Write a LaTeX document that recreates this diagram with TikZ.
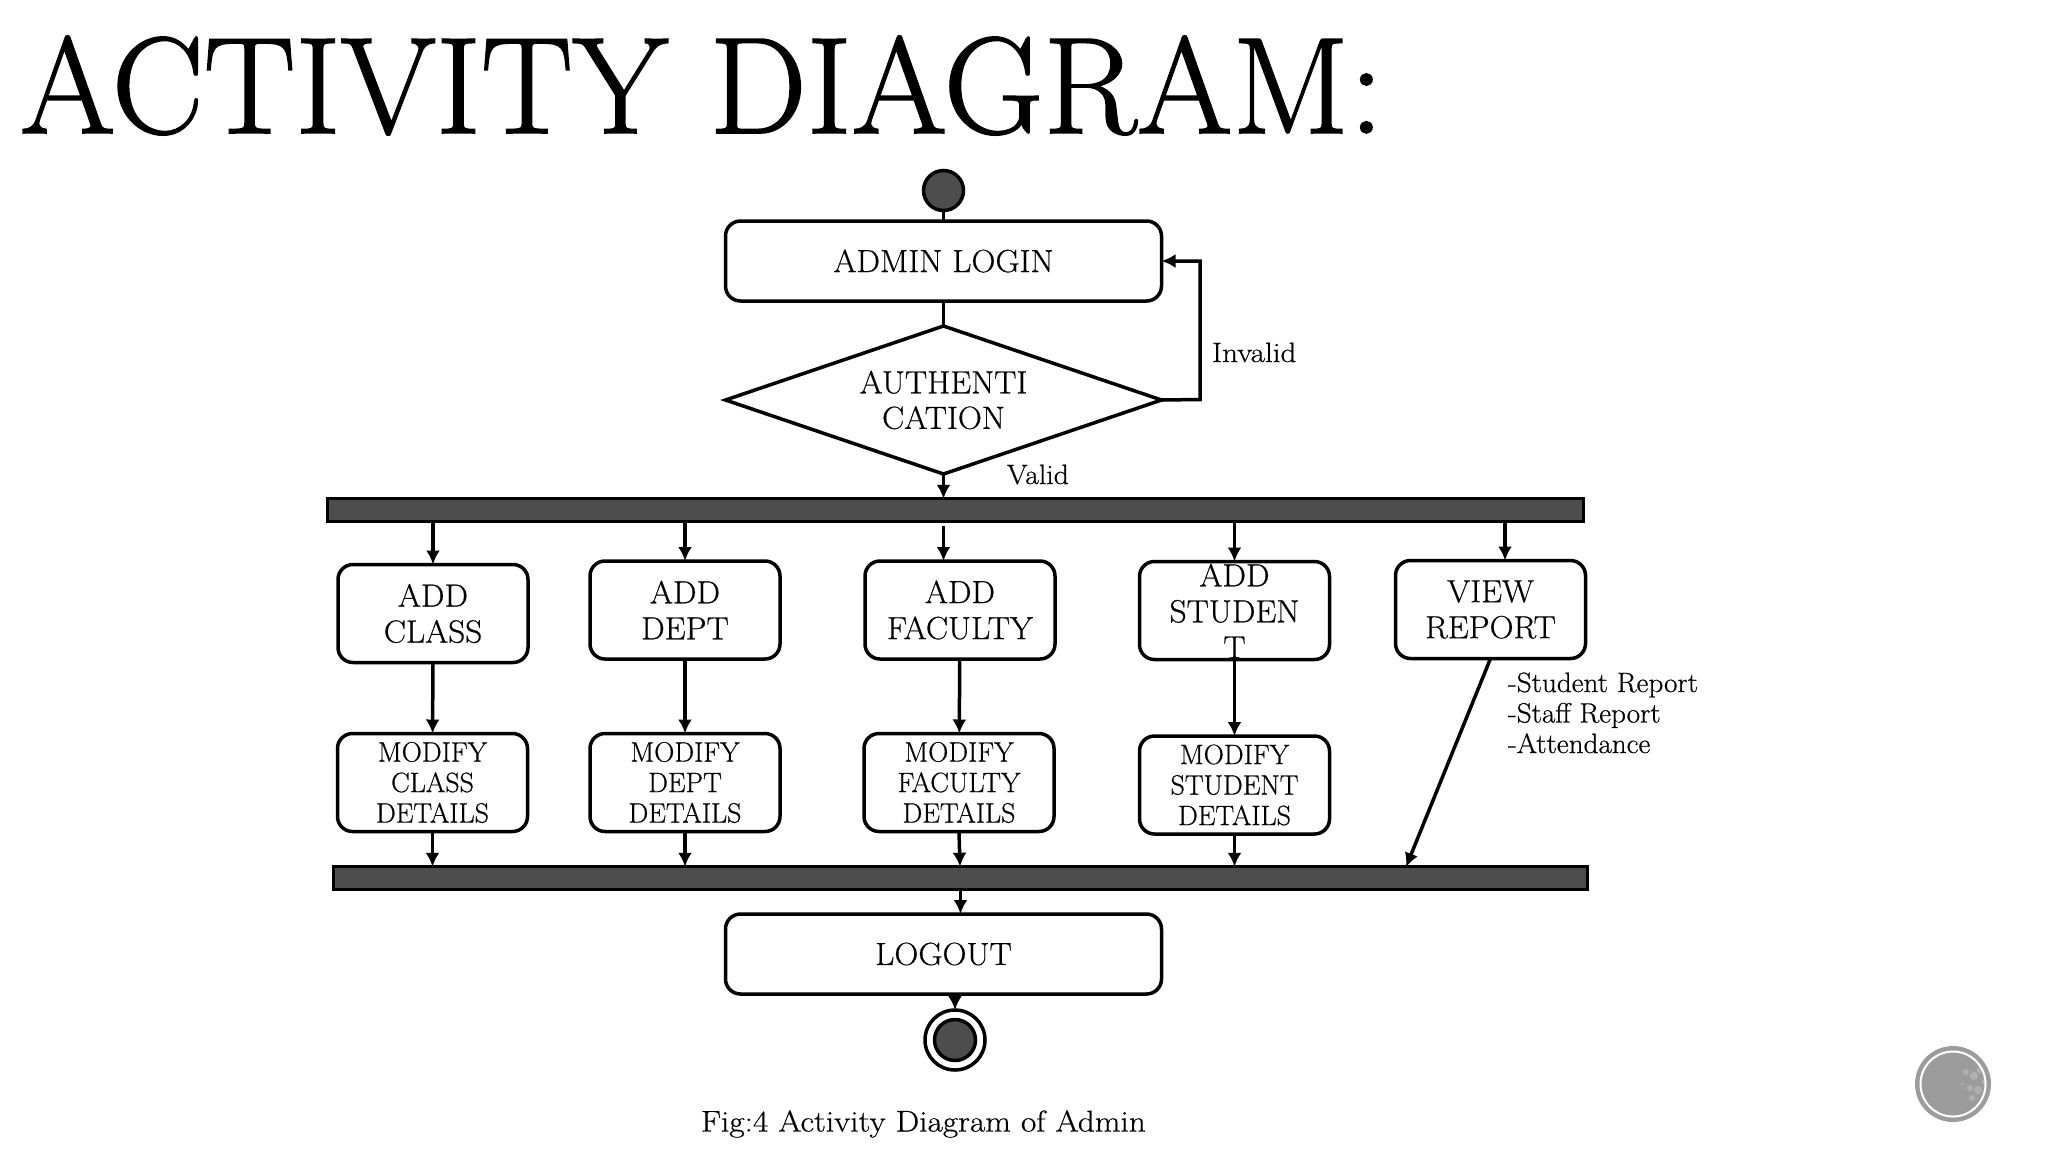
\documentclass[tikz,border=0pt]{standalone}
\usepackage{fontspec}
\usetikzlibrary{arrows.meta,shapes.geometric}
\setmainfont{Latin Modern Roman}[FakeBold=0.5,FakeStretch=1.04]
\newfontfamily\ttlfont{Latin Modern Roman}[FakeBold=1.2]
\newfontfamily\capfont{Latin Modern Roman}[FakeBold=0.5,FakeStretch=1.11]
\newfontfamily\valfont{Latin Modern Roman}[FakeBold=0.5,FakeStretch=1.06]
\newfontfamily\modfont{Latin Modern Roman}[FakeBold=0.5]
\definecolor{dark}{HTML}{4D4D4D}
\definecolor{wm}{HTML}{9C9C9C}
\tikzset{
  x=1pt,y=-1pt,
  every node/.style={inner sep=0pt,outer sep=0pt},
  lw/.style={line width=3.5pt},
  box/.style={lw,draw=black,fill=white,rounded corners=15pt,minimum width=190pt,minimum height=98pt,align=center,font=\fontsize{32}{36}\selectfont},
  mod/.style={box,font=\modfont\fontsize{28}{30.5}\selectfont},
  wide/.style={box,minimum width=436pt,minimum height=80pt},
  bar/.style={line width=3pt,draw=black,fill=dark,minimum height=22.5pt},
  txt/.style={anchor=base west,font=\fontsize{28}{30.5}\selectfont,align=left},
  arr/.style={lw,-{Latex[length=14pt,width=14pt]}},
  lin/.style={lw}
}
\begin{document}
\begin{tikzpicture}
\useasboundingbox (0,0) rectangle (2048,1152);
\node[anchor=base west,font=\ttlfont\fontsize{137.5}{140}\selectfont] (title) at (20,133) {ACTIVITY DIAGRAM:};
% top
\node[circle,lw,draw=black,fill=dark,minimum size=40pt] (start) at (943.5,190.5) {};
\node[wide] (login) at (943.5,261) {ADMIN LOGIN};
\node[diamond,aspect=2.95,lw,draw=black,fill=white,minimum width=436pt,minimum height=148pt,align=center,font=\fontsize{32}{35.5}\selectfont] (auth) at (943.5,400) {AUTHENTI\\CATION};
\node[txt,font=\capfont\fontsize{28}{30.5}\selectfont] (invalid) at (1212,362) {Invalid};
\node[txt,font=\valfont\fontsize{28}{30.5}\selectfont] (valid) at (1007,484) {Valid};
\node[bar,minimum width=1256pt] (bar1) at (955.5,510) {};
% add boxes
\node[box] (a1) at (433,613.5) {ADD\\CLASS};
\node[box] (a2) at (685,610) {ADD\\DEPT};
\node[box] (a3) at (960,610) {ADD\\FACULTY};
\node[box] (a4) at (1234.5,610.5) {};
\node[anchor=center,align=center,font=\fontsize{32}{36}\selectfont] (a4t) at (1234.5,611) {ADD\\STUDEN\\T};
\node[box] (a5) at (1490.5,609.5) {VIEW\\REPORT};
% modify boxes
\node[mod] (m1) at (432.5,782.5) {MODIFY\\CLASS\\DETAILS};
\node[mod] (m2) at (685,782.5) {MODIFY\\DEPT\\DETAILS};
\node[mod] (m3) at (959,782.5) {MODIFY\\FACULTY\\DETAILS};
\node[mod] (m4) at (1234.5,785) {MODIFY\\STUDENT\\DETAILS};
\node[txt] (rep) at (1508,753) {-Student Report\\-Staff Report\\-Attendance};
\node[bar,minimum width=1254pt] (bar2) at (960.5,878) {};
\node[wide] (logout) at (943.5,954) {LOGOUT};
\node[circle,lw,draw=black,fill=white,minimum size=60pt] (endo) at (955,1040) {};
\node[circle,lw,draw=black,fill=dark,minimum size=41pt] (endi) at (955,1040) {};
\node[anchor=base west,font=\capfont\fontsize{30}{34}\selectfont] (cap) at (701,1131.5) {Fig:4 Activity Diagram of Admin};
% free ends
\coordinate (inv) at (1200,399.5);
\coordinate (f3) at (943.5,526);
\coordinate (f5) at (1505,510);
\coordinate (vr) at (1406,867);
\coordinate (e4) at (1234.5,658);
% connectors
\draw[lin] (start) -- (login);
\draw[lin] (login) -- (auth);
\draw[arr] (auth.east) -- (inv) |- (login.east);
\draw[arr] (auth.south) -- (auth.south |- bar1.north);
\draw[arr] (bar1.south -| a1) -- (a1.north);
\draw[arr] (bar1.south -| a2) -- (a2.north);
\draw[arr] (f3) -- (f3 |- a3.north);
\draw[arr] (bar1.south -| a4) -- (a4.north);
\draw[arr] (bar1.south -| f5) -- (f5 |- a5.north);
\draw[arr] (a1) -- (m1);
\draw[arr] (a2) -- (m2);
\draw[arr] (a3) -- (m3);
\draw[arr] (e4) -- (m4.north);
\draw[arr] (a5.south) -- (vr);
\draw[arr] (m1.south) -- (m1.south |- bar2.north);
\draw[arr] (m2.south) -- (m2.south |- bar2.north);
\draw[arr] (m3.south) -- (bar2.north -| a3);
\draw[arr] (m4.south) -- (m4.south |- bar2.north);
\draw[arr] (bar2.south) -- (bar2.south |- logout.north);
\draw[arr] (logout.south -| endo) -- (endo.north);
% badge
\fill[wm] (1953,1084) circle (38);
\draw[white,line width=2pt] (1953,1084) circle (32.5);
\foreach \p/\q/\r in {1966/1072/3,1974/1076/4,1980/1070/3,1970/1088/3,1978/1090/4,1984/1082/2.5,1972/1098/3,1962/1084/1.5}
  \fill[white,opacity=.2] (\p,\q) circle (\r);
\end{tikzpicture}
\end{document}
